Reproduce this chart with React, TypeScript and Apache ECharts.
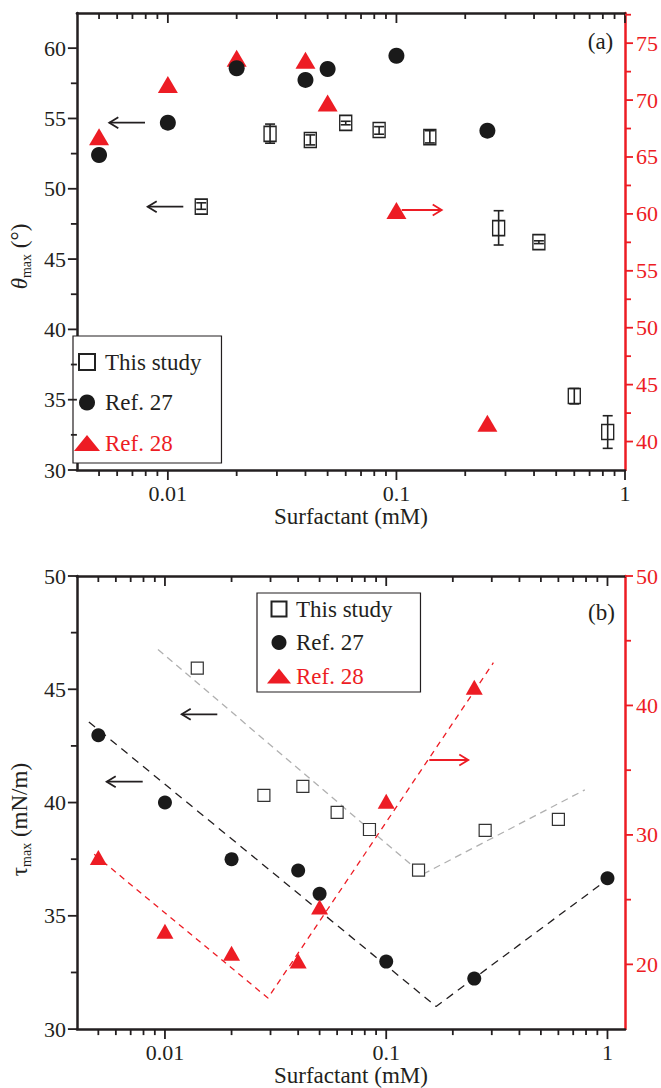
import React, { useEffect, useRef } from 'react';
import * as echarts from 'echarts';

// ---------- tick values ----------
const xMajorTicks = [0.01, 0.1, 1];
const xMinorTicks = [0.005, 0.006, 0.007, 0.008, 0.009, 0.02, 0.03, 0.04, 0.05, 0.06, 0.07, 0.08, 0.09, 0.2, 0.3, 0.4, 0.5, 0.6, 0.7, 0.8, 0.9];
const yLeftAMajor = [30, 35, 40, 45, 50, 55, 60];
const yLeftAMinor = [32.5, 37.5, 42.5, 47.5, 52.5, 57.5];
const yRightAMajor = [40, 45, 50, 55, 60, 65, 70, 75];
const yRightAMinor = [42.5, 47.5, 52.5, 57.5, 62.5, 67.5, 72.5, 77.5];
const yLeftBMajor = [30, 35, 40, 45, 50];
const yLeftBMinor = [32.5, 37.5, 42.5, 47.5];
const yRightBMajor = [20, 30, 40, 50];
const yRightBMinor = [25, 35, 45];

// ---------- panel (a) data ----------
const concStudyA = [0.014, 0.028, 0.042, 0.06, 0.084, 0.14, 0.28, 0.42, 0.6, 0.84];
const thetaStudy = [48.73, 53.9, 53.47, 54.68, 54.18, 53.67, 47.2, 46.2, 35.26, 32.7];
const thetaStudyLow = [48.54, 53.24, 53.12, 54.55, 53.88, 53.26, 46.0, 46.1, 34.7, 31.54];
const thetaStudyHigh = [49.0, 54.6, 53.83, 54.8, 54.42, 54.13, 48.44, 46.3, 35.8, 33.86];
const concRef27A = [0.005, 0.01, 0.02, 0.04, 0.05, 0.1, 0.25];
const thetaRef27 = [52.4, 54.7, 58.57, 57.74, 58.52, 59.46, 54.13];
const concRef28A = [0.005, 0.01, 0.02, 0.04, 0.05, 0.1, 0.25];
const thetaRef28 = [66.77, 71.36, 73.68, 73.5, 69.75, 60.3, 41.6];

// ---------- panel (b) data ----------
const concStudyB = [0.014, 0.028, 0.042, 0.06, 0.084, 0.14, 0.28, 0.6];
const tauStudy = [45.93, 40.32, 40.71, 39.57, 38.81, 37.02, 38.77, 39.26];
const concRef27B = [0.005, 0.01, 0.02, 0.04, 0.05, 0.1, 0.25, 1.0];
const tauRef27 = [42.97, 40.0, 37.5, 37.0, 35.97, 32.98, 32.23, 36.66];
const concRef28B = [0.005, 0.01, 0.02, 0.04, 0.05, 0.1, 0.25];
const tauRef28 = [28.25, 22.56, 20.85, 20.27, 24.43, 32.6, 41.4];
// dashed guide lines (x, y) vertices
const fitStudyX = [0.0093, 0.146, 0.79];
const fitStudyY = [46.76, 36.83, 40.56];
const fitRef27X = [0.00453, 0.168, 0.94];
const fitRef27Y = [43.56, 31.0, 36.41];
const fitRef28X = [0.00479, 0.0292, 0.305];
const fitRef28Y = [28.5, 17.4, 43.3];

const FONT = 'Liberation Serif';
const BLACK = '#231f20';
const RED = '#ed1c24';
const GRAY = '#b0b0b0';
const SQUARE_ICON = 'path://M0,0 L10,0 L10,10 L0,10 Z';

const zip = (a: number[], b: number[]) => a.map((v, i) => [v, b[i]]);
const isPow10 = (v: number) => {
  const l = Math.log10(v);
  return Math.abs(l - Math.round(l)) < 1e-6;
};
const isMult = (v: number, m: number) => Math.abs(v / m - Math.round(v / m)) < 1e-6;

function tickSeries(xi: number, yi: number, axis: 'x' | 'left' | 'right', major: number[], minor: number[], majorLen: number, minorLen: number, color: string, refY: number) {
  const rows: number[][] = [];
  major.forEach((v) => rows.push(axis === 'x' ? [v, refY, 1] : [0.1, v, 1]));
  minor.forEach((v) => rows.push(axis === 'x' ? [v, refY, 0] : [0.1, v, 0]));
  return {
    type: 'custom',
    xAxisIndex: xi,
    yAxisIndex: yi,
    silent: true,
    clip: false,
    z: 6,
    data: rows,
    encode: { x: 0, y: 1 },
    renderItem: (params: any, api: any) => {
      const cs = params.coordSys;
      const p = api.coord([api.value(0), api.value(1)]);
      const len = api.value(2) ? majorLen : minorLen;
      const style = { stroke: color, lineWidth: 1.8 };
      if (axis === 'x') {
        const b = cs.y + cs.height;
        return {
          type: 'group',
          children: [
            { type: 'line', shape: { x1: p[0], y1: b, x2: p[0], y2: b + len }, style },
            { type: 'line', shape: { x1: p[0], y1: cs.y, x2: p[0], y2: cs.y + len }, style },
          ],
        };
      }
      const x0 = axis === 'left' ? cs.x : cs.x + cs.width;
      const x1 = axis === 'left' ? x0 - len : x0 + len;
      return { type: 'line', shape: { x1: x0, y1: p[1], x2: x1, y2: p[1] }, style };
    },
  };
}

function arrow(tailX: number, headX: number, y: number, color: string) {
  const dir = headX < tailX ? 1 : -1;
  return [
    { type: 'line', shape: { x1: tailX, y1: y, x2: headX, y2: y }, style: { stroke: color, lineWidth: 1.8 }, z: 10 },
    {
      type: 'polyline',
      shape: { points: [[headX + dir * 9, y - 5.5], [headX, y], [headX + dir * 9, y + 5.5]] },
      style: { stroke: color, lineWidth: 1.8, fill: 'none' },
      z: 10,
    },
  ];
}

const xAxisBase = (gridIndex: number, max: number, position: 'top' | 'bottom', name?: string) => ({
  type: 'log',
  logBase: 10,
  gridIndex,
  min: 0.004,
  max,
  position,
  name: name || '',
  nameLocation: 'middle',
  nameGap: 34,
  nameTextStyle: { fontFamily: FONT, fontSize: 23, color: BLACK },
  axisLine: { show: true, onZero: false, lineStyle: { color: BLACK, width: 2.5 } },
  axisTick: { show: false },
  minorTick: { show: false },
  splitLine: { show: false },
  axisLabel: {
    show: position === 'bottom',
    margin: 12,
    fontFamily: FONT,
    fontSize: 22,
    color: BLACK,
    formatter: (v: number) => (isPow10(v) ? String(Number(v.toPrecision(6))) : ''),
  },
});

const yAxisBase = (gridIndex: number, min: number, max: number, interval: number, labelStep: number, position: 'left' | 'right', color: string, name?: string, padEnd = 0) => ({
  type: 'value',
  gridIndex,
  min,
  max,
  interval,
  position,
  name: name || '',
  nameLocation: 'middle',
  nameRotate: 90,
  nameGap: 33,
  nameTextStyle: {
    fontFamily: FONT,
    fontSize: 23,
    color: BLACK,
    padding: [0, padEnd, 0, 0],
    rich: {
      t: { fontFamily: FONT, fontSize: 23, fontStyle: 'italic', color: BLACK },
      u: { fontFamily: FONT, fontSize: 23, color: BLACK },
      s: { fontFamily: FONT, fontSize: 14, color: BLACK, verticalAlign: 'bottom', lineHeight: 27 },
      n: { fontFamily: FONT, fontSize: 23, color: BLACK },
    },
  },
  axisLine: { show: true, onZero: false, lineStyle: { color, width: 2.5 } },
  axisTick: { show: false },
  minorTick: { show: false },
  splitLine: { show: false },
  axisLabel: {
    margin: 11,
    fontFamily: FONT,
    fontSize: 22,
    color,
    formatter: (v: number) => (isMult(v, labelStep) ? String(Math.round(v)) : ''),
  },
});

const legendData = [
  { name: 'This study', icon: SQUARE_ICON },
  { name: 'Ref. 27' },
  { name: 'Ref. 28', textStyle: { color: RED } },
];

export default function App() {
  const ref = useRef<HTMLDivElement>(null);
  useEffect(() => {
    if (!ref.current) return;
    const chart = echarts.init(ref.current, undefined, { renderer: 'svg' });
    const option: any = {
      animation: false,
      backgroundColor: '#ffffff',
      textStyle: { fontFamily: FONT },
      grid: [
        { left: 66, top: 13, width: 559, height: 457 },
        { left: 66, top: 576, width: 559, height: 457 },
      ],
      xAxis: [
        xAxisBase(0, 1, 'bottom', 'Surfactant (mM)'),
        xAxisBase(0, 1, 'top'),
        xAxisBase(1, 1.2, 'bottom', 'Surfactant (mM)'),
        xAxisBase(1, 1.2, 'top'),
      ],
      yAxis: [
        yAxisBase(0, 30, 62.5, 2.5, 5, 'left', BLACK, '{t|θ}{s|max}{n| (°)}', 30),
        yAxisBase(0, 37.5, 77.65, 2.5, 5, 'right', RED),
        yAxisBase(1, 30, 50, 2.5, 5, 'left', BLACK, '{u|τ}{s|max}{n| (mN/m)}', 34),
        yAxisBase(1, 15, 50, 5, 10, 'right', RED),
      ],
      legend: [
        {
          left: 73,
          top: 336,
          orient: 'vertical',
          data: legendData,
          itemWidth: 26,
          itemHeight: 16,
          itemGap: 16.5,
          symbolKeepAspect: true,
          padding: [14, 20, 8, 1],
          borderColor: BLACK,
          borderWidth: 1.2,
          backgroundColor: '#fff',
          selectedMode: false,
          textStyle: { fontFamily: FONT, fontSize: 23, color: BLACK, lineHeight: 24 },
        },
        {
          left: 257,
          top: 593,
          orient: 'vertical',
          data: legendData,
          itemWidth: 24,
          itemHeight: 15,
          itemGap: 9.5,
          symbolKeepAspect: true,
          padding: [4, 28, 4, 10],
          borderColor: BLACK,
          borderWidth: 1.2,
          backgroundColor: '#fff',
          selectedMode: false,
          textStyle: { fontFamily: FONT, fontSize: 23, color: BLACK, lineHeight: 24 },
        },
      ],
      series: [
        // ----- panel (a) -----
        {
          name: 'Ref. 28',
          type: 'scatter',
          xAxisIndex: 0,
          yAxisIndex: 1,
          symbol: 'triangle',
          symbolSize: [20, 17],
          itemStyle: { color: RED, opacity: 1 },
          data: zip(concRef28A, thetaRef28),
          z: 3,
        },
        {
          name: 'Ref. 27',
          type: 'scatter',
          xAxisIndex: 0,
          yAxisIndex: 0,
          symbol: 'circle',
          symbolSize: 16,
          itemStyle: { color: '#1a1a1a', opacity: 1 },
          data: zip(concRef27A, thetaRef27),
          z: 4,
        },
        {
          name: 'This study',
          type: 'scatter',
          xAxisIndex: 0,
          yAxisIndex: 0,
          symbol: 'rect',
          symbolSize: [12, 15],
          itemStyle: { color: '#ffffff', borderColor: '#222', borderWidth: 1.5, opacity: 1 },
          data: zip(concStudyA, thetaStudy),
          z: 4,
        },
        {
          type: 'custom',
          xAxisIndex: 0,
          yAxisIndex: 0,
          silent: true,
          z: 5,
          data: concStudyA.map((c, i) => [c, thetaStudyLow[i], thetaStudyHigh[i]]),
          encode: { x: 0, y: [1, 2] },
          renderItem: (params: any, api: any) => {
            const lo = api.coord([api.value(0), api.value(1)]);
            const hi = api.coord([api.value(0), api.value(2)]);
            const style = { stroke: '#222', lineWidth: 1.6 };
            const w = 5;
            return {
              type: 'group',
              children: [
                { type: 'line', shape: { x1: lo[0], y1: lo[1], x2: hi[0], y2: hi[1] }, style },
                { type: 'line', shape: { x1: lo[0] - w, y1: lo[1], x2: lo[0] + w, y2: lo[1] }, style },
                { type: 'line', shape: { x1: hi[0] - w, y1: hi[1], x2: hi[0] + w, y2: hi[1] }, style },
              ],
            };
          },
        },
        tickSeries(0, 0, 'x', xMajorTicks, xMinorTicks, 10, 6, BLACK, 40),
        tickSeries(0, 0, 'left', yLeftAMajor, yLeftAMinor, 9, 6, BLACK, 40),
        tickSeries(0, 1, 'right', yRightAMajor, yRightAMinor, 8, 6, RED, 40),
        // ----- panel (b) -----
        {
          type: 'line',
          xAxisIndex: 2,
          yAxisIndex: 3,
          symbol: 'none',
          silent: true,
          lineStyle: { color: RED, width: 1.3, type: [6, 5] },
          data: zip(fitRef28X, fitRef28Y),
          z: 2,
        },
        {
          type: 'line',
          xAxisIndex: 2,
          yAxisIndex: 2,
          symbol: 'none',
          silent: true,
          lineStyle: { color: GRAY, width: 1.3, type: [7, 5] },
          data: zip(fitStudyX, fitStudyY),
          z: 2,
        },
        {
          type: 'line',
          xAxisIndex: 2,
          yAxisIndex: 2,
          symbol: 'none',
          silent: true,
          lineStyle: { color: BLACK, width: 1.3, type: [8, 6] },
          data: zip(fitRef27X, fitRef27Y),
          z: 2,
        },
        {
          name: 'This study',
          type: 'scatter',
          xAxisIndex: 2,
          yAxisIndex: 2,
          symbol: 'rect',
          symbolSize: 12,
          itemStyle: { color: '#ffffff', borderColor: '#333', borderWidth: 1.2, opacity: 1 },
          data: zip(concStudyB, tauStudy),
          z: 4,
        },
        {
          name: 'Ref. 27',
          type: 'scatter',
          xAxisIndex: 2,
          yAxisIndex: 2,
          symbol: 'circle',
          symbolSize: 14,
          itemStyle: { color: '#1a1a1a', opacity: 1 },
          data: zip(concRef27B, tauRef27),
          z: 3,
        },
        {
          name: 'Ref. 28',
          type: 'scatter',
          xAxisIndex: 2,
          yAxisIndex: 3,
          symbol: 'triangle',
          symbolSize: [17, 15],
          itemStyle: { color: RED, opacity: 1 },
          data: zip(concRef28B, tauRef28),
          z: 4,
        },
        tickSeries(2, 2, 'x', xMajorTicks, xMinorTicks, 10, 6, BLACK, 40),
        tickSeries(2, 2, 'left', yLeftBMajor, yLeftBMinor, 9, 6, BLACK, 40),
        tickSeries(2, 3, 'right', yRightBMajor, yRightBMinor, 8, 6, RED, 40),
      ],
      graphic: [
        ...arrow(145, 109.3, 122.7, BLACK),
        ...arrow(183.3, 147.7, 206.7, BLACK),
        ...arrow(401.7, 441.7, 210, RED),
        ...arrow(217.3, 181.7, 714.3, BLACK),
        ...arrow(142.7, 106.7, 781.7, BLACK),
        ...arrow(429.3, 468.3, 760, RED),
        {
          type: 'text',
          x: 600.5,
          y: 41.5,
          z: 10,
          style: { text: '(a)', fontFamily: FONT, fontSize: 23, fill: BLACK, align: 'center', verticalAlign: 'middle' },
        },
        {
          type: 'text',
          x: 601.5,
          y: 612.5,
          z: 10,
          style: { text: '(b)', fontFamily: FONT, fontSize: 23, fill: BLACK, align: 'center', verticalAlign: 'middle' },
        },
      ],
    };
    chart.setOption(option);
    return () => chart.dispose();
  }, []);
  return <div ref={ref} style={{ position: 'absolute', left: 0, top: 0, width: 661, height: 1088, background: '#fff' }} />;
}
